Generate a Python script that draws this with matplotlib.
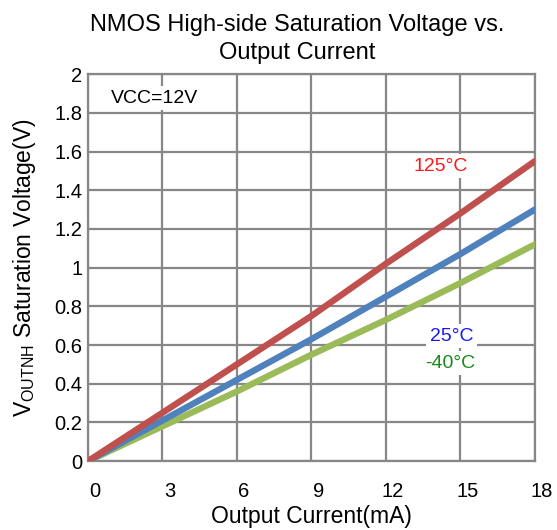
import matplotlib
matplotlib.use("Agg")
import matplotlib.pyplot as plt
import matplotlib.transforms as mtransforms

plt.rcParams['font.family'] = ['Liberation Sans', 'DejaVu Sans']
plt.rcParams['mathtext.fontset'] = 'custom'
plt.rcParams['mathtext.rm'] = 'Liberation Sans'

# Output current (mA) and high-side saturation voltage (V) per temperature
current_ma = [0, 3, 6, 9, 12, 15, 18]
vsat_125c = [0, 0.25, 0.50, 0.75, 1.02, 1.28, 1.55]
vsat_25c = [0, 0.21, 0.42, 0.63, 0.85, 1.07, 1.30]
vsat_m40c = [0, 0.18, 0.36, 0.55, 0.73, 0.92, 1.12]

x_ticks = [0, 3, 6, 9, 12, 15, 18]
y_ticks = [0, 0.2, 0.4, 0.6, 0.8, 1.0, 1.2, 1.4, 1.6, 1.8, 2.0]
y_tick_labels = ['0', '0.2', '0.4', '0.6', '0.8', '1', '1.2', '1.4', '1.6', '1.8', '2']

fig = plt.figure(figsize=(5.57, 5.30), dpi=100)
ax = fig.add_axes([0.158, 0.130, 0.802, 0.730])

grid_col = '#878787'
ax.plot(current_ma, vsat_m40c, color='#9BBB59', lw=4.6, solid_capstyle='round', zorder=3)
ax.plot(current_ma, vsat_25c, color='#4F81BD', lw=4.6, solid_capstyle='round', zorder=4)
ax.plot(current_ma, vsat_125c, color='#C0504D', lw=4.6, solid_capstyle='round', zorder=5)

ax.set_xlim(0, 18)
ax.set_ylim(0, 2)
ax.set_xticks(x_ticks)
ax.set_xticklabels([str(v) for v in x_ticks])
ax.set_yticks(y_ticks)
ax.set_yticklabels(y_tick_labels)
ax.grid(True, color=grid_col, lw=1.6, zorder=1)
ax.set_axisbelow(True)
for s in ax.spines.values():
    s.set_color(grid_col)
    s.set_linewidth(1.6)
ax.tick_params(axis='both', length=0, labelsize=14.5)
ax.tick_params(axis='x', pad=15)
ax.tick_params(axis='y', pad=4)
shift = mtransforms.ScaledTranslation(0.07, 0, fig.dpi_scale_trans)
for lbl in ax.get_xticklabels():
    lbl.set_transform(lbl.get_transform() + shift)

ax.set_xlabel('Output Current(mA)', fontsize=16.5, labelpad=3)
ax.set_ylabel(r'V$_{\mathregular{OUTNH}}$ Saturation Voltage(V)', fontsize=16.5, labelpad=12)

fig.text(0.533, 0.926, 'NMOS High-side Saturation Voltage vs.\nOutput Current',
         ha='center', va='center', fontsize=17, linespacing=1.32)

box = dict(facecolor='white', edgecolor='none', pad=2.5)
ax.text(0.92, 1.876, 'VCC=12V', fontsize=14, color='black', va='center', ha='left',
        bbox=box, zorder=6)
ax.text(14.2, 1.525, '125°C', fontsize=14, color='#FF1A1A', va='center', ha='center',
        bbox=box, zorder=6)
ax.text(14.64, 0.646, '25°C', fontsize=14, color='#1A1AF0', va='center', ha='center',
        bbox=box, zorder=6)
ax.text(14.6, 0.506, '-40°C', fontsize=14, color='#1A8A1A', va='center', ha='center',
        bbox=box, zorder=6)

fig.savefig('out.png', dpi=100)
